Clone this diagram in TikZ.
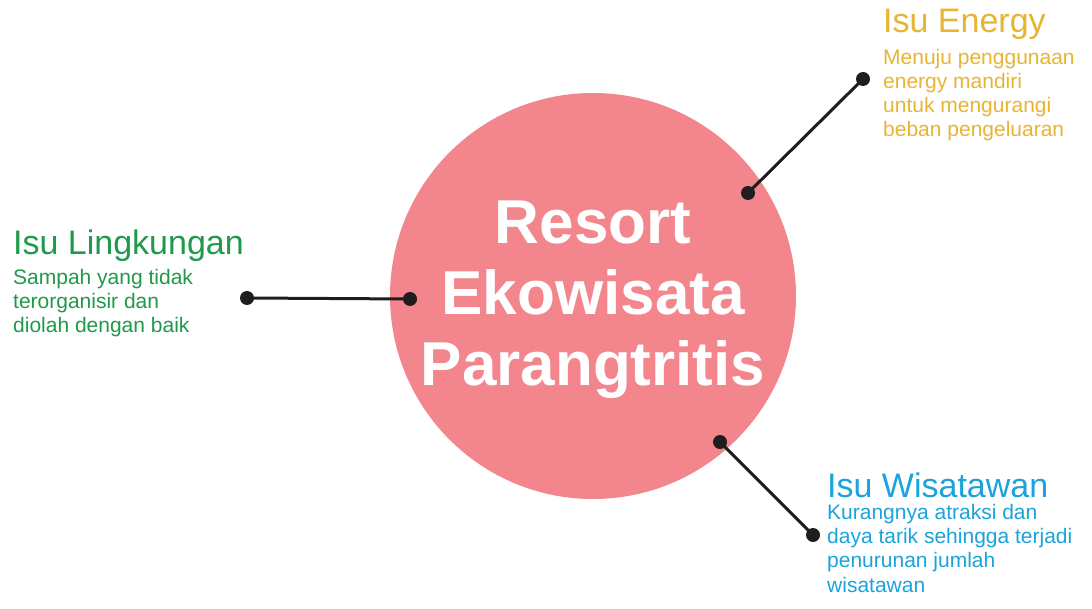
\documentclass[tikz,border=0pt]{standalone}
\usepackage{fontspec}
\setmainfont{Liberation Sans}
\definecolor{hubpink}{HTML}{F3858C}
\definecolor{energyc}{HTML}{E8B532}
\definecolor{lingc}{HTML}{1F9A4B}
\definecolor{wisc}{HTML}{1AA3DC}
\definecolor{dotc}{HTML}{1E1E1E}
\tikzset{
  dotnode/.style={circle,fill=dotc,inner sep=0pt,minimum size=14pt},
  conn/.style={draw=dotc,line width=3pt},
  titletext/.style={anchor=base west,inner sep=0pt,font=\fontsize{34}{38}\selectfont},
  bodytext/.style={anchor=base west,inner sep=0pt,align=left,font=\fontsize{21}{24.3}\selectfont},
}
\begin{document}
\begin{tikzpicture}[x=1pt,y=-1pt]
\useasboundingbox[fill=white] (0,0) rectangle (1092,609);
% hub
\node[circle,fill=hubpink,minimum size=406pt,inner sep=0pt] (hub) at (593,296) {};
\node[text=white,align=center,inner sep=0pt,anchor=base,
      font=\bfseries\fontsize{62}{71}\selectfont] (hubtext) at (593,385)
      {Resort\\Ekowisata\\Parangtritis};
% connectors
\node[dotnode] (lin) at (410,299) {};
\node[dotnode] (lout) at (247,298) {};
\node[dotnode] (ein) at (748,193) {};
\node[dotnode] (eout) at (863,79) {};
\node[dotnode] (win) at (720,442) {};
\node[dotnode] (wout) at (813,535) {};
\draw[conn] (lin.center) -- (lout.center);
\draw[conn] (ein.center) -- (eout.center);
\draw[conn] (win.center) -- (wout.center);
% Energy
\node[titletext,text=energyc] (etitle) at (883,33) {Isu Energy};
\node[bodytext,text=energyc] (ebody) at (883,137) {Menuju penggunaan\\energy mandiri\\untuk mengurangi\\beban pengeluaran};
% Lingkungan
\node[titletext,text=lingc] (ltitle) at (13,255) {Isu Lingkungan};
\node[bodytext,text=lingc] (lbody) at (13,333) {Sampah yang tidak\\terorganisir dan\\diolah dengan baik};
% Wisatawan
\node[titletext,text=wisc] (wtitle) at (827,497) {Isu Wisatawan};
\node[bodytext,text=wisc] (wbody) at (827,592) {Kurangnya atraksi dan\\daya tarik sehingga terjadi\\penurunan jumlah\\wisatawan};
\end{tikzpicture}
\end{document}
